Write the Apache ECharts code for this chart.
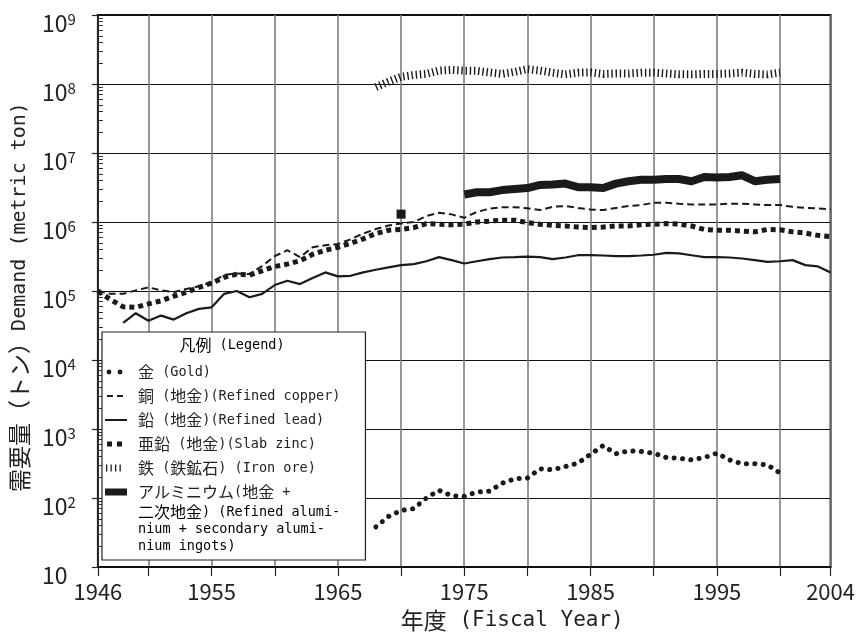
<!DOCTYPE html>
<html>
<head>
<meta charset="utf-8">
<script src="https://cdn.jsdelivr.net/npm/echarts@6/dist/echarts.min.js"></script>
<style>html,body{margin:0;padding:0;background:#fff}#c{width:858px;height:637px}</style>
</head>
<body>
<div id="c"></div>
<script>
// ---- data ----
const years = [1946,1947,1948,1949,1950,1951,1952,1953,1954,1955,1956,1957,1958,1959,
  1960,1961,1962,1963,1964,1965,1966,1967,1968,1969,1970,1971,1972,1973,1974,1975,
  1976,1977,1978,1979,1980,1981,1982,1983,1984,1985,1986,1987,1988,1989,1990,1991,
  1992,1993,1994,1995,1996,1997,1998,1999,2000,2001,2002,2003,2004];

const gold = [null,null,null,null,null,null,null,null,null,null,null,null,null,null,
  null,null,null,null,null,null,null,null,38,54,66,70,100,129,108,106,
  122,125,164,190,195,265,256,286,320,431,575,437,482,471,446,386,
  377,357,386,446,357,313,313,303,230,null,null,null,null];

const copper = [1.0e5,9.1e4,9.1e4,1.02e5,1.13e5,1.02e5,9.6e4,1.07e5,1.17e5,1.33e5,1.72e5,1.8e5,1.76e5,2.3e5,
  3.2e5,3.9e5,3.1e5,4.3e5,4.6e5,4.8e5,5.6e5,6.8e5,7.9e5,8.9e5,9.5e5,1.0e6,1.22e6,1.36e6,1.29e6,1.15e6,
  1.4e6,1.56e6,1.64e6,1.64e6,1.58e6,1.49e6,1.66e6,1.7e6,1.6e6,1.52e6,1.49e6,1.6e6,1.7e6,1.76e6,1.9e6,1.9e6,
  1.84e6,1.8e6,1.8e6,1.8e6,1.84e6,1.84e6,1.8e6,1.76e6,1.76e6,1.66e6,1.6e6,1.58e6,1.52e6];

const lead = [null,null,3.45e4,4.76e4,3.7e4,4.4e4,3.85e4,4.76e4,5.5e4,5.8e4,9.1e4,1.0e5,8.1e4,9.1e4,
  1.22e5,1.41e5,1.26e5,1.54e5,1.86e5,1.63e5,1.66e5,1.86e5,2.03e5,2.2e5,2.37e5,2.45e5,2.7e5,3.1e5,2.8e5,2.5e5,
  2.7e5,2.9e5,3.06e5,3.1e5,3.15e5,3.1e5,2.9e5,3.06e5,3.3e5,3.3e5,3.27e5,3.2e5,3.2e5,3.27e5,3.35e5,3.57e5,
  3.5e5,3.3e5,3.1e5,3.1e5,3.06e5,2.96e5,2.8e5,2.65e5,2.7e5,2.8e5,2.37e5,2.27e5,1.86e5];

const zinc = [1.0e5,7.5e4,5.9e4,5.8e4,6.5e4,7.2e4,8.4e4,9.6e4,1.13e5,1.3e5,1.58e5,1.76e5,1.7e5,1.96e5,
  2.27e5,2.45e5,2.75e5,3.4e5,3.9e5,4.3e5,4.9e5,5.7e5,6.8e5,7.6e5,7.8e5,8.3e5,9.5e5,9.3e5,9.1e5,9.3e5,
  1.0e6,1.03e6,1.06e6,1.06e6,9.8e5,9.3e5,8.95e5,8.75e5,8.45e5,8.3e5,8.45e5,8.75e5,8.75e5,9.1e5,9.3e5,9.5e5,
  9.3e5,8.75e5,7.8e5,7.6e5,7.6e5,7.4e5,7.2e5,7.8e5,7.7e5,7.2e5,6.9e5,6.4e5,6.15e5];

const iron = [null,null,null,null,null,null,null,null,null,null,null,null,null,null,
  null,null,null,null,null,null,null,null,9.0e7,1.08e8,1.27e8,1.35e8,1.4e8,1.56e8,1.6e8,1.56e8,
  1.55e8,1.47e8,1.4e8,1.5e8,1.64e8,1.56e8,1.46e8,1.38e8,1.46e8,1.47e8,1.4e8,1.42e8,1.42e8,1.46e8,1.46e8,1.42e8,
  1.38e8,1.38e8,1.4e8,1.4e8,1.42e8,1.46e8,1.4e8,1.38e8,1.46e8,null,null,null,null];

const aluminium = [null,null,null,null,null,null,null,null,null,null,null,null,null,null,
  null,null,null,null,null,null,null,null,null,null,1.3e6,null,null,null,null,2.5e6,
  2.7e6,2.7e6,2.9e6,3.0e6,3.1e6,3.45e6,3.5e6,3.6e6,3.2e6,3.2e6,3.1e6,3.6e6,3.9e6,4.1e6,4.1e6,4.2e6,
  4.2e6,3.9e6,4.5e6,4.4e6,4.5e6,4.75e6,3.9e6,4.1e6,4.2e6,null,null,null,null];

const xLabelYears = [1946,1955,1965,1975,1985,1995,2004];
const xTickYears = [1946,1950,1955,1960,1965,1970,1975,1980,1985,1990,1995,2000,2004];
const yMinorTicks = [];
for (let d = 10; d < 1e9; d *= 10) { for (let k = 2; k <= 9; k++) yMinorTicks.push(d * k); }

const names = ['金 (Gold)', '銅 (地金)(Refined copper)', '鉛 (地金)(Refined lead)',
  '亜鉛 (地金)(Slab zinc)', '鉄 (鉄鉱石) (Iron ore)', 'アルミニウム(地金 +'];
const alumExtra = ['二次地金) (Refined alumi-', 'nium + secondary alumi-', 'nium ingots)'];
const legendTitle = '凡例 (Legend)';
const xName = '年度 (Fiscal Year)';
const yName = '需要量（トン）Demand (metric ton)';

// ---- chart ----
const CJK = "'Noto Sans CJK JP', 'Noto Sans', sans-serif";
const MONO = "'DejaVu Sans Mono', 'Liberation Mono', monospace";
const INK = '#1a1a1a';
const TXT = '#222';
const pair = arr => years.map((y, i) => [y, arr[i]]);
// split a string into CJK runs {c|..} and ASCII runs {l|..}
const richify = s => s.replace(/[^\x00-\x7f]+|[\x00-\x7f]+/g, m => (/^[\x00-\x7f]/.test(m) ? '{l|' : '{c|') + m + '}');
const richSet = (cs, ls) => ({
  c: { fontFamily: CJK, fontSize: cs, color: TXT },
  l: { fontFamily: MONO, fontSize: ls, color: TXT }
});

const corners = 'M0,0h0.01v0.01h-0.01zM21.99,7.99h0.01v0.01h-0.01z';
const icons = [
  'path://' + corners + 'M1.6,4a2.4,2.4 0 1,0 4.8,0a2.4,2.4 0 1,0 -4.8,0zM12.6,4a2.4,2.4 0 1,0 4.8,0a2.4,2.4 0 1,0 -4.8,0z',
  'path://' + corners + 'M2,3h6v2h-6zM12,3h6v2h-6z',
  'path://' + corners + 'M0,2.9h22v2.2h-22z',
  'path://' + corners + 'M2,1.5h5v5h-5zM12,1.5h5v5h-5z',
  'path://' + corners + 'M1,0.5h1.3v7h-1.3zM5.5,0.5h1.3v7h-1.3zM10,0.5h1.3v7h-1.3zM14.5,0.5h1.3v7h-1.3z',
  'path://' + corners + 'M0,0.5h22v7h-22z'
];

const alumData = pair(aluminium).map(p => p[0] === 1970
  ? { value: p, symbol: 'rect', symbolSize: 9, itemStyle: { color: INK } } : p);

const chart = echarts.init(document.getElementById('c'), null, { renderer: 'canvas' });
chart.setOption({
  animation: false,
  color: [INK],
  textStyle: { fontFamily: CJK },
  grid: { left: 93, right: 25, top: 15, bottom: 68, show: true, borderColor: '#111', borderWidth: 2, backgroundColor: 'transparent' },
  xAxis: {
    type: 'value', min: 1946, max: 2004,
    name: richify(xName), nameLocation: 'middle', nameGap: 42,
    nameTextStyle: { padding: [0, 0, 0, 96], rich: richSet(23, 21) },
    axisLine: { show: true, lineStyle: { color: '#111', width: 1.5 } },
    axisTick: { show: true, inside: false, length: 9, customValues: xTickYears, lineStyle: { color: '#222', width: 1.2 } },
    axisLabel: { customValues: xLabelYears, fontFamily: CJK, fontSize: 22, color: TXT, margin: 14, formatter: v => String(v) },
    splitLine: { show: true, lineStyle: { color: '#7d7d7d', width: 1.6 } }
  },
  yAxis: [{
    type: 'log', logBase: 10, min: 10, max: 1e9, splitNumber: 8,
    name: richify(yName), nameLocation: 'middle', nameGap: 60,
    nameTextStyle: { padding: [0, 12, 0, 0], rich: richSet(23, 20) },
    axisLine: { show: true, lineStyle: { color: '#111', width: 1.5 } },
    axisTick: { show: true, inside: false, length: 6, lineStyle: { color: '#222', width: 1.2 } },
    axisLabel: {
      align: 'left', margin: 56, color: TXT, padding: [16, 0, 0, 0],
      formatter: v => { const e = Math.round(Math.log10(v)); return e === 1 ? '{b|10}' : '{b|10}{s|' + e + '}'; },
      rich: {
        b: { fontFamily: CJK, fontSize: 23, color: TXT },
        s: { fontFamily: CJK, fontSize: 15, color: TXT, verticalAlign: 'top' }
      }
    },
    splitLine: { show: true, lineStyle: { color: '#111', width: 1.2 } }
  }, {
    type: 'log', logBase: 10, min: 10, max: 1e9, position: 'left', offset: 0,
    axisLine: { show: false }, axisLabel: { show: false }, splitLine: { show: false },
    axisTick: { show: true, inside: true, length: 5, customValues: yMinorTicks, lineStyle: { color: '#333', width: 1 } }
  }],
  legend: {
    orient: 'vertical', left: 102, top: 332,
    padding: [32, 25, 60, 3], itemGap: 8, itemWidth: 22, itemHeight: 8,
    backgroundColor: '#fff', borderColor: '#222', borderWidth: 1.2, borderRadius: 0,
    formatter: n => richify(n),
    textStyle: { padding: [0, 0, 0, 6], rich: richSet(16, 13.5) },
    itemStyle: { borderWidth: 0 },
    lineStyle: { width: 0 },
    data: names.map((n, i) => ({ name: n, icon: icons[i], itemStyle: { color: INK } }))
  },
  graphic: [
    { type: 'text', x: 232, y: 345, z: 100,
      style: { text: richify(legendTitle), align: 'center', verticalAlign: 'middle', rich: richSet(16, 13.5) } }
  ].concat(alumExtra.map((t, i) => ({
    type: 'text', x: 138, y: 512 + i * 17, z: 100,
    style: { text: richify(t), align: 'left', verticalAlign: 'middle', rich: richSet(16, 13.5) }
  }))),
  series: [
    { name: names[0], type: 'line', data: pair(gold), symbol: 'none', z: 5,
      lineStyle: { color: INK, width: 5, type: [0.1, 8.3], cap: 'round' } },
    { name: names[1], type: 'line', data: pair(copper), symbol: 'none', z: 4,
      lineStyle: { color: INK, width: 2, type: [7, 4] } },
    { name: names[2], type: 'line', data: pair(lead), symbol: 'none', z: 4,
      lineStyle: { color: INK, width: 2.2 } },
    { name: names[3], type: 'line', data: pair(zinc), symbol: 'none', z: 3,
      lineStyle: { color: INK, width: 5, type: [5, 4], cap: 'butt' } },
    { name: names[4], type: 'line', data: pair(iron), symbol: 'none', z: 3,
      lineStyle: { color: INK, width: 8, type: [1.4, 2.8], cap: 'butt' } },
    { name: names[5], type: 'line', data: alumData, symbol: 'none', showSymbol: true, z: 3,
      lineStyle: { color: INK, width: 8, join: 'round' } }
  ]
});
</script>
</body>
</html>
